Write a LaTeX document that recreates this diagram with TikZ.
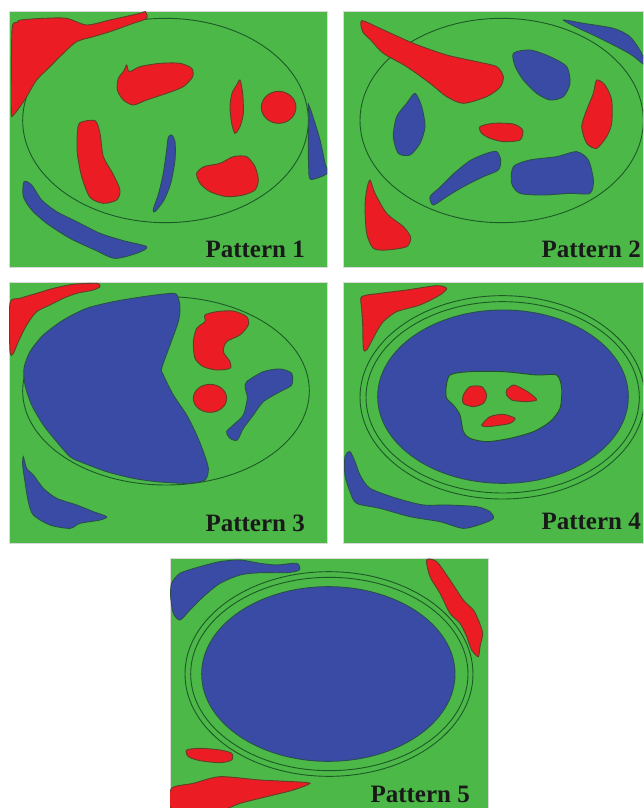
\documentclass[tikz,border=0pt]{standalone}
\usepackage{fontspec}
\setmainfont{Liberation Serif}
\definecolor{bgg}{HTML}{4CB848}
\definecolor{rd}{HTML}{EC1C24}
\definecolor{bl}{HTML}{3A4BA6}
\definecolor{edg}{HTML}{23502A}
\definecolor{ring}{HTML}{1C5A26}
\tikzset{
  panelbg/.style={fill=bgg, draw=black!15, line width=0.6pt},
  redblob/.style={fill=rd, draw=edg!70!rd, line width=0.9pt},
  blueblob/.style={fill=bl, draw=edg!70!bl, line width=0.9pt},
  greenblob/.style={fill=bgg, draw=edg, line width=0.9pt},
  ringline/.style={draw=ring, line width=0.9pt},
  lbl/.style={font=\fontsize{25}{25}\selectfont\bfseries, inner sep=0pt, text=black!90},
  sm/.style={smooth cycle, tension=0.45}
}
\begin{document}
\begin{tikzpicture}[x=1pt,y=-1pt]
\useasboundingbox (0,0) rectangle (644,808);
\fill[white] (0,0) rectangle (644,808);
% ---------------- Panel 1
\path[panelbg] (9,11) rectangle (327,267);
\begin{scope}
\clip (9,11) rectangle (327,267);
\begin{scope}[scale=1/3]
\draw[ringline] (496.5,361.5) ellipse [x radius=428.5, y radius=306.5];
\draw[redblob] plot[sm] coordinates {(36,90) (50,68) (62,60) (130,55) (200,55) (260,75) (330,60) (420,40) (436,35) (440,55) (400,70) (330,95) (280,110) (230,125) (190,160) (150,200) (110,240) (80,290) (60,320) (40,345) (34,330)};
\draw[redblob] plot[sm] coordinates {(380,195) (388,215) (420,200) (480,190) (540,190) (575,205) (578,230) (550,260) (500,280) (440,300) (400,315) (370,300) (352,270) (355,235) (372,212)};
\draw[redblob] plot[sm] coordinates {(240,368) (285,362) (300,400) (310,470) (338,520) (360,570) (350,600) (310,610) (270,592) (245,530) (232,460) (232,400)};
\draw[blueblob] plot[sm] coordinates {(515,405) (525,425) (525,480) (512,550) (492,600) (465,635) (460,628) (476,580) (490,520) (500,450) (505,412)};
\draw[redblob] plot[sm] coordinates {(720,240) (728,280) (730,340) (720,380) (705,400) (695,370) (690,320) (696,280) (710,255)};
\draw[redblob] (836,322) ellipse [x radius=52, y radius=48];
\draw[redblob] plot[sm] coordinates {(590,520) (612,500) (660,490) (700,470) (740,470) (765,500) (775,540) (765,570) (730,585) (680,590) (630,575) (600,550)};
\draw[blueblob] plot[sm] coordinates {(925,312) (942,360) (960,420) (975,490) (982,520) (932,538) (926,500) (925,420) (927,350)};
\draw[blueblob] plot[sm] coordinates {(72,545) (95,555) (125,600) (170,635) (230,665) (300,700) (370,722) (440,740) (415,758) (345,775) (285,750) (210,715) (140,670) (95,630) (70,590)};
\end{scope}
\end{scope}
\node[lbl, anchor=base east] (t1) at (305,257) {Pattern 1};
% ---------------- Panel 2
\path[panelbg] (343,11) rectangle (643,267);
\begin{scope}
\clip (343,11) rectangle (643,267);
\begin{scope}[shift={(330,0)}, scale=1/3]
\draw[ringline] (515,361.5) ellipse [x radius=425, y radius=306.5];
\draw[redblob] plot[sm] coordinates {(95,62) (150,85) (250,130) (350,165) (440,185) (500,200) (520,230) (510,262) (470,290) (400,310) (350,290) (300,250) (230,200) (160,160) (122,120) (98,95)};
\draw[blueblob] plot[sm] coordinates {(700,60) (760,70) (850,85) (900,110) (935,160) (945,195) (905,165) (860,140) (800,110) (740,82)};
\draw[blueblob] plot[sm] coordinates {(550,160) (600,150) (660,170) (710,200) (720,250) (700,290) (660,300) (620,280) (580,240) (556,200)};
\draw[redblob] plot[sm] coordinates {(800,240) (825,255) (845,300) (845,370) (830,410) (800,445) (770,430) (755,380) (770,330) (790,280)};
\draw[blueblob] plot[sm] coordinates {(255,280) (275,320) (285,380) (270,430) (240,465) (205,460) (190,410) (200,350) (230,310)};
\draw[redblob] plot[sm] coordinates {(450,380) (490,370) (550,372) (578,390) (570,420) (520,425) (480,415) (455,400)};
\draw[blueblob] plot[sm] coordinates {(300,590) (330,562) (370,522) (420,482) (470,460) (500,455) (512,480) (505,510) (460,530) (400,560) (350,590) (310,615)};
\draw[blueblob] plot[sm] coordinates {(550,500) (600,480) (680,470) (740,455) (775,480) (790,540) (780,580) (720,580) (640,585) (570,580) (545,550)};
\draw[redblob] plot[sm] coordinates {(120,540) (135,580) (170,640) (220,680) (242,712) (230,740) (170,750) (130,745) (110,700) (105,620) (110,570)};
\end{scope}
\end{scope}
\node[lbl, anchor=base east] (t2) at (641,257) {Pattern 2};
% ---------------- Panel 3
\path[panelbg] (9,282) rectangle (327,543);
\begin{scope}
\clip (9,282) rectangle (327,543);
\begin{scope}[shift={(0,275)}, scale=1/3]
\draw[ringline] (498,347.5) ellipse [x radius=430, y radius=282.5];
\draw[redblob] plot[sm] coordinates {(30,85) (60,70) (110,55) (160,40) (220,28) (290,25) (300,35) (280,45) (230,55) (190,70) (150,90) (110,110) (80,150) (55,200) (40,235) (30,230)};
\draw[blueblob] plot[sm] coordinates {(520,55) (535,70) (540,100) (535,140) (510,210) (485,280) (490,300) (520,360) (560,420) (590,480) (610,530) (625,580) (615,615) (560,625) (470,620) (400,610) (320,590) (240,560) (210,545) (170,500) (130,450) (95,390) (75,330) (72,280) (90,230) (130,180) (190,135) (260,100) (340,80) (430,65)};
\draw[redblob] plot[sm] coordinates {(615,120) (650,110) (700,108) (740,125) (745,150) (720,180) (680,200) (670,230) (690,260) (690,280) (650,285) (610,275) (585,250) (580,200) (590,160) (615,140)};
\draw[redblob] (630,370) ellipse [x radius=50, y radius=42];
\draw[blueblob] plot[sm] coordinates {(740,320) (790,290) (840,282) (875,295) (875,330) (840,350) (790,380) (760,420) (730,460) (712,495) (690,490) (680,470) (700,450) (730,420) (742,370) (736,340)};
\draw[blueblob] plot[sm] coordinates {(70,545) (80,580) (100,600) (130,640) (170,670) (230,690) (280,710) (320,725) (300,735) (240,745) (210,760) (150,750) (100,720) (85,680) (75,620) (68,570)};
\end{scope}
\end{scope}
\node[lbl, anchor=base east] (t3) at (305,531) {Pattern 3};
% ---------------- Panel 4
\path[panelbg] (343,282) rectangle (643,543);
\begin{scope}
\clip (343,282) rectangle (643,543);
\begin{scope}[shift={(330,275)}, scale=1/3]
\draw[ringline] (517,367) ellipse [x radius=427, y radius=305];
\draw[ringline] (518,367) ellipse [x radius=410, y radius=287];
\draw[blueblob] (519,365) ellipse [x radius=376, y radius=260];
\draw[greenblob] plot[sm] coordinates {(360,300) (420,290) (520,290) (620,300) (680,300) (695,340) (690,400) (660,440) (610,470) (540,490) (470,500) (420,490) (400,470) (390,420) (370,390) (350,370) (348,340)};
\draw[redblob] plot[sm] coordinates {(400,360) (420,335) (455,335) (470,360) (460,385) (430,395) (400,385)};
\draw[redblob] plot[sm] coordinates {(530,345) (550,330) (575,340) (600,355) (620,375) (585,380) (545,375) (530,360)};
\draw[redblob] plot[sm] coordinates {(455,450) (480,425) (520,418) (555,430) (540,445) (500,452) (470,455)};
\draw[redblob] plot[sm] coordinates {(95,65) (150,55) (230,45) (320,32) (350,40) (330,60) (270,90) (200,110) (160,140) (140,170) (110,225) (100,220) (98,150) (95,100)};
\draw[blueblob] plot[sm] coordinates {(45,545) (60,530) (75,560) (90,600) (120,640) (200,670) (280,690) (350,690) (440,695) (480,710) (490,730) (460,745) (400,760) (330,740) (240,725) (150,700) (80,685) (60,650) (45,600)};
\end{scope}
\end{scope}
\node[lbl, anchor=base east] (t4) at (641,529) {Pattern 4};
% ---------------- Panel 5
\path[panelbg] (170,558) rectangle (488,808);
\begin{scope}
\clip (170,558) rectangle (488,808);
\begin{scope}[shift={(160,550)}, scale=1/3]
\draw[ringline] (507,372) ellipse [x radius=432, y radius=307];
\draw[ringline] (508,372) ellipse [x radius=416, y radius=290];
\draw[blueblob] (505,372) ellipse [x radius=380, y radius=262];
\draw[blueblob] plot[sm] coordinates {(35,100) (60,70) (120,50) (180,35) (240,30) (300,40) (350,45) (410,40) (418,60) (380,68) (300,68) (240,75) (180,100) (130,140) (90,180) (60,210) (40,190) (32,140)};
\draw[redblob] plot[sm] coordinates {(800,30) (830,35) (870,90) (910,150) (940,180) (955,210) (968,250) (960,290) (955,320) (935,300) (920,260) (900,220) (870,190) (840,130) (810,80)};
\draw[redblob] plot[sm] coordinates {(80,600) (120,595) (180,600) (215,610) (215,630) (180,638) (120,632) (85,620)};
\draw[redblob] plot[sm] coordinates {(35,715) (100,700) (180,680) (300,690) (400,695) (450,700) (400,720) (320,740) (240,760) (180,780) (35,775)};
\end{scope}
\end{scope}
\node[lbl, anchor=base east] (t5) at (470,802) {Pattern 5};
\end{tikzpicture}
\end{document}
